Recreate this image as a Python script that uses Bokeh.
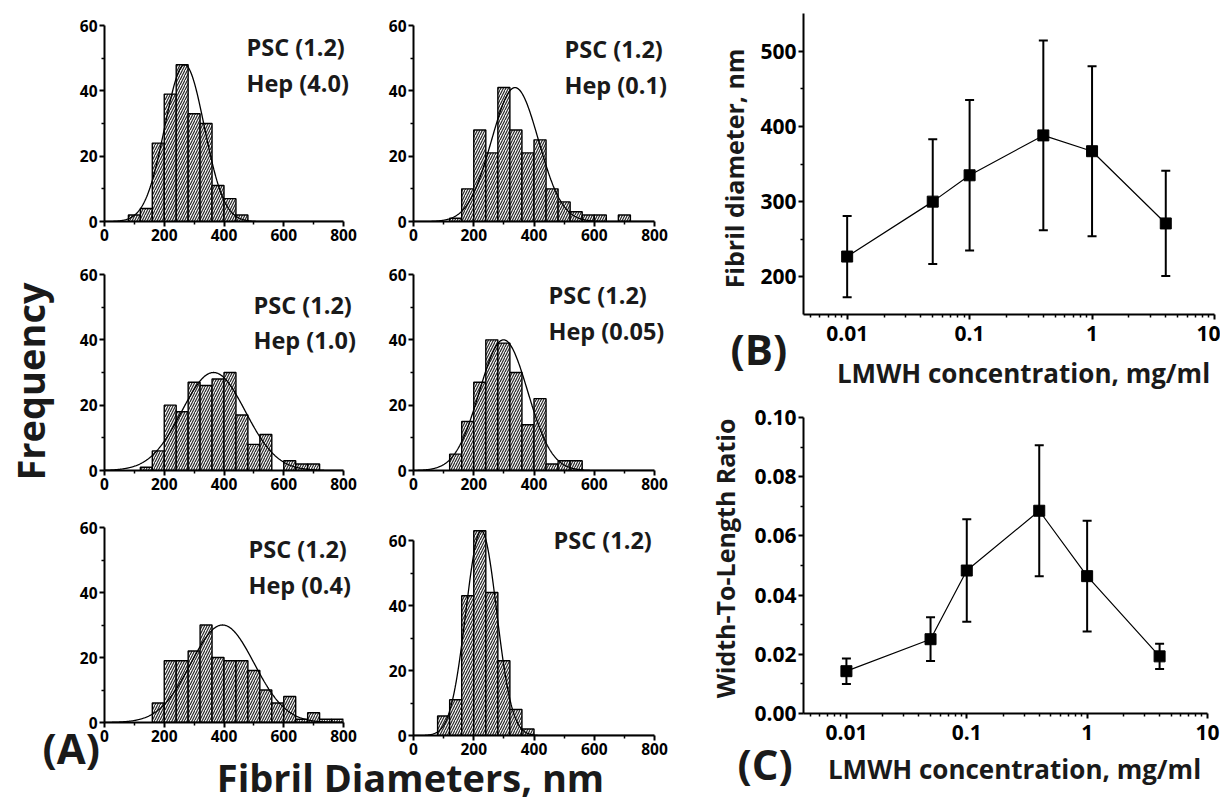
import numpy as np
from bokeh.plotting import figure
from bokeh.models import (ColumnDataSource, Label, Whisker, TeeHead, FixedTicker,
                          NumeralTickFormatter, GridBox, Range1d)
from bokeh.layouts import column, row
from bokeh.embed import file_html
from bokeh.resources import INLINE

FONT = "Open Sans"
INK = "black"

# ---------------- data: histograms (A) ----------------
bin_lefts = [0, 40, 80, 120, 160, 200, 240, 280, 320, 360,
             400, 440, 480, 520, 560, 600, 640, 680, 720, 760]
BIN_WIDTH = 40

counts_hep40 = [0, 0, 2, 4, 24, 39, 48, 33, 30, 11, 7, 2, 0, 0, 0, 0, 0, 0, 0, 0]
counts_hep01 = [0, 0, 0, 1, 10, 28, 21, 41, 28, 21, 25, 10, 6, 3, 2, 2, 0, 2, 0, 0]
counts_hep10 = [0, 0, 0, 1, 6, 20, 18, 27, 26, 28, 30, 17, 8, 11, 0, 3, 2, 2, 0, 0]
counts_hep005 = [0, 0, 0, 5, 15, 27, 40, 39, 30, 14, 22, 2, 3, 3, 0, 0, 0, 0, 0, 0]
counts_hep04 = [0, 0, 0, 0, 6, 19, 19, 22, 30, 20, 19, 19, 16, 10, 6, 8, 1, 3, 1, 1]
counts_psc = [0, 0, 6, 11, 43, 63, 44, 23, 8, 2, 0, 0, 0, 0, 0, 0, 0, 0, 0, 0]

# Gaussian fit parameters (centre, sigma, peak)
fit_center = [268, 337, 365, 299, 395, 225]
fit_sigma = [66, 78, 106, 80, 106, 51]
fit_peak = [48, 41, 30, 40, 30, 63]

panel_text = [["PSC (1.2)", "Hep (4.0)"], ["PSC (1.2)", "Hep (0.1)"],
              ["PSC (1.2)", "Hep (1.0)"], ["PSC (1.2)", "Hep (0.05)"],
              ["PSC (1.2)", "Hep (0.4)"], ["PSC (1.2)"]]

hist_x_ticks = [0, 200, 400, 600, 800]
hist_y_ticks = [0, 20, 40, 60]

# ---------------- data: (B) and (C) ----------------
conc = [0.01, 0.05, 0.1, 0.4, 1, 4]
diam_mean = [227, 300, 335, 388, 367, 271]
diam_err = [54, 83, 100, 126, 113, 70]
ratio_mean = [0.0143, 0.0251, 0.0483, 0.0685, 0.0464, 0.0193]
ratio_err = [0.0043, 0.0074, 0.0173, 0.0221, 0.0187, 0.0043]
conc_ticks = [0.01, 0.1, 1, 10]
diam_ticks = [200, 300, 400, 500]
ratio_ticks = [0.0, 0.02, 0.04, 0.06, 0.08, 0.1]

LEFT_W, RIGHT_W, PAGE_H = 688, 532, 804
DESC = 0.18  # alphabetic-baseline correction (fraction of font size)


def style_axes(p, size):
    for ax in list(p.xaxis) + list(p.yaxis):
        ax.axis_line_width = 2
        ax.axis_line_color = INK
        ax.major_tick_line_width = 2
        ax.major_tick_line_color = INK
        ax.minor_tick_line_width = 1.5
        ax.minor_tick_line_color = INK
        ax.major_tick_out = 5
        ax.major_tick_in = 0
        ax.minor_tick_out = 3
        ax.minor_tick_in = 0
        ax.major_label_text_font = FONT
        ax.major_label_text_font_style = "bold"
        ax.major_label_text_font_size = size
        ax.major_label_text_color = INK
        ax.major_label_standoff = 2
    p.xgrid.visible = False
    p.ygrid.visible = False
    p.outline_line_color = None


def overlay(w, h):
    ov = figure(frame_width=w, frame_height=h, x_range=Range1d(0, w), y_range=Range1d(0, h),
                output_backend="svg", toolbar_location=None, x_axis_type=None, y_axis_type=None,
                min_border_left=0, min_border_right=0, min_border_top=0, min_border_bottom=0,
                background_fill_color=None, border_fill_color=None, outline_line_color=None)
    ov.xgrid.visible = False
    ov.ygrid.visible = False
    return ov


def put_text(ov, text, x, y_top, size, align="left", baseline="alphabetic", angle=0.0):
    """x, y_top in overlay pixels measured from its top-left corner."""
    y = PAGE_H - y_top
    if baseline == "alphabetic":
        y += DESC * size
    ov.add_layout(Label(x=x, y=y, x_units="screen", y_units="screen", text=text,
                        text_font=FONT, text_font_style="bold", text_font_size=f"{size}px",
                        text_color="#1a1a1a", text_align=align, text_baseline=baseline,
                        angle=angle))


def hist_fig(i, counts, borders, frame_h, y_end):
    bl, br, bt, bb = borders
    fw = 239 if i % 2 == 0 else 241
    p = figure(frame_width=fw, frame_height=frame_h, x_range=Range1d(0, 800),
               y_range=Range1d(0, y_end), output_backend="svg", toolbar_location=None,
               min_border_left=bl, min_border_right=br, min_border_top=bt,
               min_border_bottom=bb)
    lefts = [b for b, c in zip(bin_lefts, counts) if c > 0]
    tops = [c for c in counts if c > 0]
    src = ColumnDataSource(dict(left=lefts, right=[b + BIN_WIDTH for b in lefts], top=tops))
    p.quad(left="left", right="right", bottom=0, top="top", source=src,
           fill_color="#f4f4f4", hatch_pattern="right_diagonal_line", hatch_color="#202020",
           hatch_scale=5, hatch_weight=1.1, line_color=INK, line_width=1.4)
    xs = np.linspace(0, 800, 401)
    ys = fit_peak[i] * np.exp(-0.5 * ((xs - fit_center[i]) / fit_sigma[i]) ** 2)
    p.line(xs, ys, line_color=INK, line_width=1.3)
    p.xaxis.ticker = FixedTicker(ticks=hist_x_ticks, minor_ticks=[100, 300, 500, 700])
    p.yaxis.ticker = FixedTicker(ticks=hist_y_ticks, minor_ticks=[10, 30, 50])
    p.xaxis.bounds = (0, 800)
    p.yaxis.bounds = (0, 60)
    style_axes(p, "15.5px")
    return p


# (left, right, top, bottom) borders
h1 = hist_fig(0, counts_hep40, (104, 22, 25, 36), 196, 60)
h2 = hist_fig(1, counts_hep01, (48, 34, 25, 36), 196, 60)
h3 = hist_fig(2, counts_hep10, (104, 22, 17, 40), 196, 60)
h4 = hist_fig(3, counts_hep005, (48, 34, 17, 40), 196, 60)
h5 = hist_fig(4, counts_hep04, (104, 22, 17, 82), 195, 60)
h6 = hist_fig(5, counts_psc, (48, 34, 4, 82), 208, 64)

left_block = column(row(h1, h2), row(h3, h4), row(h5, h6))

# transparent overlay carrying all texts of panel (A)
ova = overlay(LEFT_W, PAGE_H)
panel_text_pos = [(246, 51, 36), (564, 53, 36), (253, 309, 35),
                  (548, 299, 36), (248, 553, 36), (553, 544, 36)]
for lines, (tx, ty, dy) in zip(panel_text, panel_text_pos):
    for k, t in enumerate(lines):
        put_text(ova, t, tx, ty + k * dy, 23.5)
put_text(ova, "Frequency", 29, 381, 38, align="center", baseline="middle", angle=np.pi / 2)
put_text(ova, "(A)", 42, 747, 42, align="left", baseline="middle")
put_text(ova, "Fibril Diameters, nm", 410, 783, 38, align="center")


def err_fig(mean, err, yr, yticks, yminor, yfmt, borders, fw, fh):
    bl, br, bt, bb = borders
    p = figure(frame_width=fw, frame_height=fh, x_axis_type="log",
               x_range=Range1d(0.0044, 10), y_range=Range1d(*yr),
               output_backend="svg", toolbar_location=None,
               min_border_left=bl, min_border_right=br, min_border_top=bt, min_border_bottom=bb)
    src = ColumnDataSource(dict(x=conc, y=mean,
                                upper=[m + e for m, e in zip(mean, err)],
                                lower=[m - e for m, e in zip(mean, err)]))
    p.line("x", "y", source=src, line_color=INK, line_width=1.2)
    p.add_layout(Whisker(source=src, base="x", upper="upper", lower="lower",
                         line_color=INK, line_width=2,
                         upper_head=TeeHead(size=9, line_width=2, line_color=INK),
                         lower_head=TeeHead(size=9, line_width=2, line_color=INK)))
    p.scatter("x", "y", source=src, marker="square", size=11, fill_color=INK, line_color=INK)
    minor = [m * 10.0 ** d for d in (-3, -2, -1, 0) for m in range(2, 10)]
    p.xaxis.ticker = FixedTicker(ticks=conc_ticks, minor_ticks=minor)
    p.xaxis.formatter = NumeralTickFormatter(format="0.[00]")
    p.yaxis.ticker = FixedTicker(ticks=yticks, minor_ticks=yminor)
    p.yaxis.formatter = NumeralTickFormatter(format=yfmt)
    style_axes(p, "21px")
    p.xaxis.major_label_standoff = 6
    return p


pb = err_fig(diam_mean, diam_err, (150, 550), diam_ticks, [250, 350, 450], "0",
             (111, 10, 13, 89), 411, 301)
pc = err_fig(ratio_mean, ratio_err, (0, 0.1), ratio_ticks, [0.01, 0.03, 0.05, 0.07, 0.09], "0.00",
             (115, 13, 14, 91), 404, 296)

right_block = column(pb, pc)

# transparent overlay carrying the texts of panels (B) and (C); x measured from its left edge
ovr = overlay(RIGHT_W, PAGE_H)
put_text(ovr, "Fibril diameter, nm", 45, 168, 25, align="center", baseline="middle", angle=np.pi / 2)
put_text(ovr, "(B)", 42, 348, 42, align="left", baseline="middle")
put_text(ovr, "LMWH concentration, mg/ml", 335, 377, 26, align="center")
put_text(ovr, "Width-To-Length Ratio", 36, 558, 25, align="center", baseline="middle", angle=np.pi / 2)
put_text(ovr, "(C)", 49, 763, 42, align="left", baseline="middle")
put_text(ovr, "LMWH concentration, mg/ml", 326, 773, 26, align="center")

page = GridBox(children=[(left_block, 0, 0), (ova, 0, 0), (right_block, 0, 1), (ovr, 0, 1)])

open("out.html", "w").write(file_html(page, INLINE))
